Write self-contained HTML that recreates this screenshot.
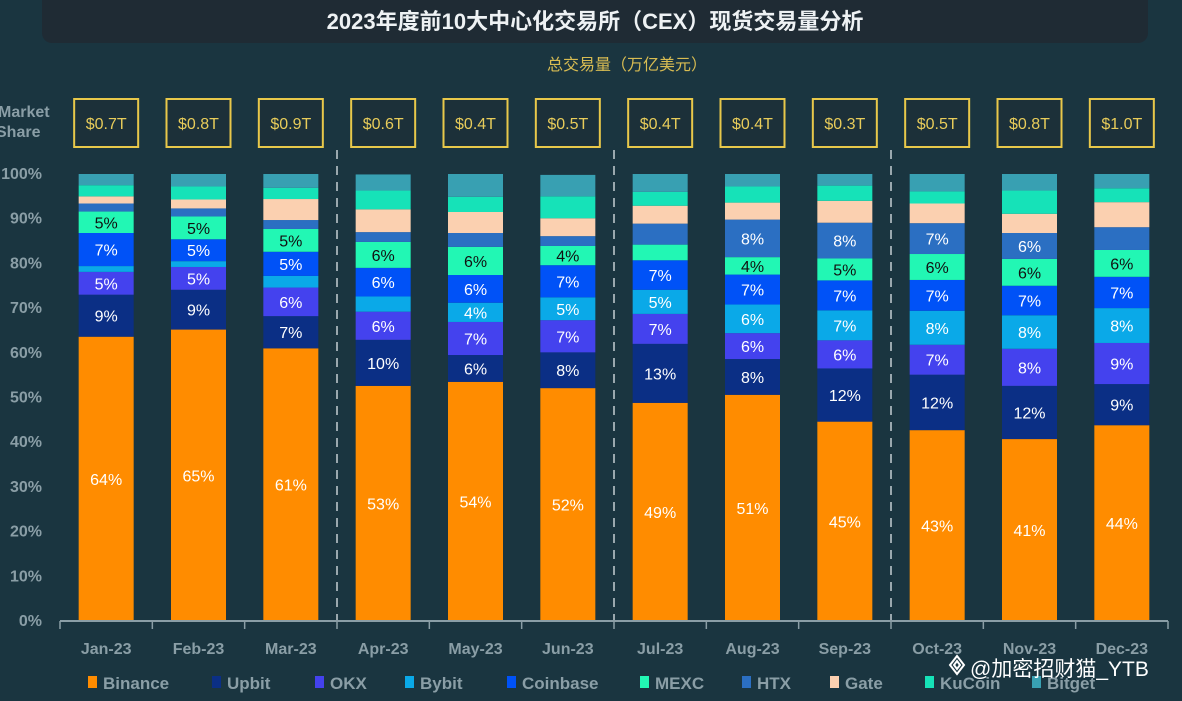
<!DOCTYPE html>
<html><head><meta charset="utf-8">
<style>
body{margin:0;width:1182px;height:696px;overflow:hidden;background:#1a3540;font-family:"Liberation Sans","Noto Sans CJK SC",sans-serif;}
</style></head>
<body>
<svg id="chart" width="1182" height="696" xmlns="http://www.w3.org/2000/svg">
<rect x="0" y="0" width="1182" height="696" fill="#1a3540"/>
<rect x="42" y="-12" width="1106" height="55" rx="10" fill="#1f2b34"/>
<text x="595" y="29" text-anchor="middle" fill="#eef2f4" font-size="22" font-weight="bold" font-family="'Liberation Sans','Noto Sans CJK SC',sans-serif">2023年度前10大中心化交易所（CEX）现货交易量分析</text>
<text x="627" y="70" text-anchor="middle" fill="#d8bc52" font-size="16" font-family="'Liberation Sans','Noto Sans CJK SC',sans-serif">总交易量（万亿美元）</text>
<text x="-2" y="117" fill="#8a9ea6" font-size="16" font-weight="bold"><tspan x="-2">Market</tspan><tspan x="-4" dy="20">Share</tspan></text>
<g id="g"></g>
</svg>
<script>
const months=["Jan-23","Feb-23","Mar-23","Apr-23","May-23","Jun-23","Jul-23","Aug-23","Sep-23","Oct-23","Nov-23","Dec-23"];
const totals=["$0.7T","$0.8T","$0.9T","$0.6T","$0.4T","$0.5T","$0.4T","$0.4T","$0.3T","$0.5T","$0.8T","$1.0T"];
const exchanges=["Binance","Upbit","OKX","Bybit","Coinbase","MEXC","HTX","Gate","KuCoin","Bitget"];
const binance=[63.6,65.2,61.0,52.6,53.5,52.1,48.8,50.6,44.6,42.7,40.7,43.8];
const upbit=[9.4,8.9,7.2,10.3,6.0,8.0,13.2,8.0,11.9,12.4,11.9,9.2];
const okx=[5.1,5.1,6.4,6.3,7.4,7.2,6.7,5.8,6.3,6.7,8.3,9.2];
const bybit=[1.3,1.3,2.6,3.4,4.3,5.1,5.4,6.4,6.7,7.6,7.5,7.8];
const coinbase=[7.4,4.9,5.4,6.4,6.2,7.2,6.6,6.7,6.7,6.9,6.6,7.0];
const mexc=[4.8,5.1,5.1,5.8,6.3,4.3,3.5,3.9,4.9,5.8,6.0,6.0];
const htx=[1.8,1.8,2.0,2.2,3.1,2.2,4.7,8.4,8.0,6.9,5.8,5.1];
const gate=[1.6,2.0,4.7,5.1,4.7,4.0,4.0,3.8,4.9,4.4,4.3,5.6];
const kucoin=[2.5,2.9,2.5,4.2,3.4,4.9,3.1,3.6,3.4,2.7,5.2,3.1];
const bitget=[2.5,2.8,3.1,3.6,5.1,4.8,4.0,2.8,2.6,3.9,3.7,3.2];
const yTicks=[0,10,20,30,40,50,60,70,80,90,100];

const series=[binance,upbit,okx,bybit,coinbase,mexc,htx,gate,kucoin,bitget];
const colors=["#ff8c00","#0b2f85","#4442ee","#0aa9e8","#0052f7","#22f7b4","#2b6fc2","#fbd0b0","#16e2b8","#38a0b2"];
const textCol=["#fff","#fff","#fff","#fff","#fff","#111","#fff","#111","#111","#111"];
const thresh=[0,3.6,3.6,3.6,3.6,3.6,5.5,999,999,999];
const X0=60,X1=1168,Y0=621,Y100=174;
const bw=(X1-X0)/months.length, barW=55;
const xC=i=>X0+bw*(i+0.5);
const y=v=>Y0-(Y0-Y100)*v/100;
const g=document.getElementById('g');
const NS="http://www.w3.org/2000/svg";
function mk(t,a,p){const e=document.createElementNS(NS,t);for(const k in a)e.setAttribute(k,a[k]);(p||g).appendChild(e);return e;}

yTicks.forEach(t=>{
  const e=mk('text',{x:42,y:y(t)+5,'text-anchor':'end',fill:'#8a9ea6','font-size':16,'font-weight':'bold'});
  e.textContent=t+'%';
  
  
});
[3,6,9].forEach(k=>{
  const e=mk('line',{x1:X0+bw*k,x2:X0+bw*k,y1:150,y2:Y0,stroke:'#9aa8ae','stroke-width':2,'stroke-dasharray':'9,7'});
  
  
});
months.forEach((m,i)=>{
  let acc=0;
  series.forEach((s,k)=>{
    const v=s[i];
    const r=mk('rect',{x:xC(i)-barW/2,y:y(acc+v),width:barW,height:y(acc)-y(acc+v),fill:colors[k]});
    
    
    if(v>=thresh[k]){
      const t=mk('text',{x:xC(i),y:(y(acc)+y(acc+v))/2+6,'text-anchor':'middle',fill:textCol[k],'font-size':16});
      t.textContent=Math.round(v)+'%';
      
      
    }
    acc+=v;
  });
  const b=mk('rect',{x:xC(i)-32,y:99,width:64,height:48,fill:'#1c3039',stroke:'#e8c84a','stroke-width':2});
  
  
  const bt=mk('text',{x:xC(i),y:129,'text-anchor':'middle',fill:'#e8cc5a','font-size':16});
  bt.textContent=totals[i];
  
  
  const ml=mk('text',{x:xC(i),y:654,'text-anchor':'middle',fill:'#8a9ea6','font-size':16,'font-weight':'bold'});
  ml.textContent=m;
  
  
});
const ax=mk('line',{x1:X0,x2:X1,y1:Y0,y2:Y0,stroke:'#8a9ea6','stroke-width':2});


for(let k=0;k<=months.length;k++){
  const tk=mk('line',{x1:X0+bw*k,x2:X0+bw*k,y1:Y0,y2:Y0+8,stroke:'#8a9ea6','stroke-width':1.5});
  
  
}
const legX=[88,212,315,405,507,640,742,830,925,1032];
exchanges.forEach((n,k)=>{
  const r=mk('rect',{x:legX[k],y:676,width:9,height:12,fill:colors[k]});
  
  
  const t=mk('text',{x:legX[k]+15,y:689,fill:'#8a9ea6','font-size':17,'font-weight':'bold'});
  t.textContent=n;
  
  
});
const d=mk('path',{d:'M957 656 l7 9 l-7 9 l-7 -9 z M957 661 l3 4 l-3 4 l-3 -4 z',fill:'none',stroke:'#fff','stroke-width':2});


const w=mk('text',{x:970,y:676,fill:'#ffffff','font-size':21,'font-family':"'Liberation Sans','Noto Sans CJK SC',sans-serif"});
w.textContent='@加密招财猫_YTB';


</script>
</body></html>
